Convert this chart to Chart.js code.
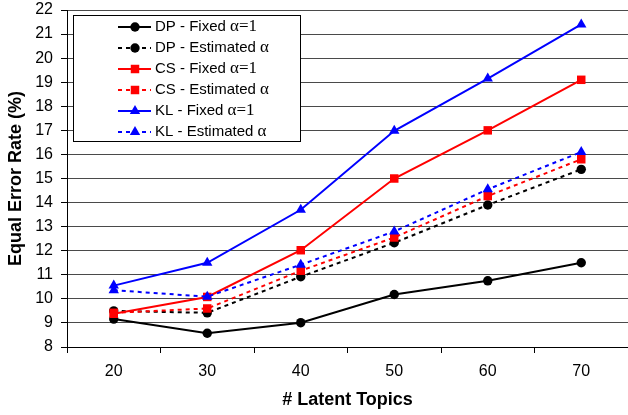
<!DOCTYPE html>
<html lang="en">
<head>
    <meta charset="UTF-8">
    <title>Equal Error Rate vs Latent Topics</title>
    <script src="https://cdn.jsdelivr.net/npm/chart.js"></script>
    <style>
        html, body {
            margin: 0;
            padding: 0;
            background: #fff;
            overflow: hidden;
        }
        #wrap {
            width: 634px;
            height: 415px;
        }
    </style>
</head>
<body>
    <div id="wrap"><canvas id="eerChart"></canvas></div>

    <script>
        // data
        const topics = ['20', '30', '40', '50', '60', '70'];
        const yTicks = [8, 9, 10, 11, 12, 13, 14, 15, 16, 17, 18, 19, 20, 21, 22];

        const dpFixed = [9.16, 8.57, 9.01, 10.18, 10.75, 11.5];
        const dpEst   = [9.5, 9.42, 10.92, 12.33, 13.9, 15.38];
        const csFixed = [9.38, 10.08, 12.02, 15.0, 17.0, 19.1];
        const csEst   = [9.42, 9.6, 11.17, 12.55, 14.27, 15.8];
        const klFixed = [10.55, 11.5, 13.7, 16.98, 19.15, 21.4];
        const klEst   = [10.36, 10.09, 11.42, 12.8, 14.55, 16.1];

        const seriesLabels = [
            'DP - Fixed α=1', 'DP - Estimated α',
            'CS - Fixed α=1', 'CS - Estimated α',
            'KL - Fixed α=1', 'KL - Estimated α'
        ];
        const seriesData = [dpFixed, dpEst, csFixed, csEst, klFixed, klEst];
        const colors = ['#000000', '#000000', '#ff0000', '#ff0000', '#0000ff', '#0000ff'];
        const markers = ['circle', 'circle', 'rect', 'rect', 'triangle', 'triangle'];
        const markerSize = { circle: 4.7, rect: 6, triangle: 6 };

        const datasets = seriesData.map((d, i) => ({
            label: seriesLabels[i],
            data: d,
            borderColor: colors[i],
            backgroundColor: colors[i],
            borderWidth: 2,
            borderDash: i % 2 === 1 ? [4, 4] : [],
            pointStyle: markers[i],
            pointRadius: markerSize[markers[i]],
            pointBorderWidth: 0,
            pointBackgroundColor: colors[i],
            tension: 0,
            order: 5 - i
        }));

        // legend box drawn inside the plot, top-left
        const boxLegend = {
            id: 'boxLegend',
            afterDatasetsDraw(chart) {
                const ctx = chart.ctx;
                const x0 = 73, y0 = 15, w = 227, h = 126;
                ctx.save();
                ctx.fillStyle = '#fff';
                ctx.fillRect(x0, y0, w, h);
                ctx.strokeStyle = '#000';
                ctx.lineWidth = 1;
                ctx.strokeRect(x0 + 0.5, y0 + 0.5, w, h);

                chart.data.datasets.forEach((ds, i) => {
                    const y = 27 + i * 21;
                    ctx.strokeStyle = ds.borderColor;
                    ctx.lineWidth = 2;
                    ctx.setLineDash(ds.borderDash);
                    ctx.beginPath();
                    ctx.moveTo(118, y);
                    ctx.lineTo(151, y);
                    ctx.stroke();
                    ctx.setLineDash([]);
                    ctx.fillStyle = ds.backgroundColor;
                    Chart.helpers.drawPoint(ctx, {
                        pointStyle: ds.pointStyle,
                        radius: ds.pointRadius,
                        borderWidth: 0,
                        rotation: 0
                    }, 135, y);

                    const k = ds.label.indexOf('α');
                    const head = ds.label.slice(0, k);
                    const tail = ds.label.slice(k);
                    ctx.fillStyle = '#000';
                    ctx.textBaseline = 'middle';
                    ctx.textAlign = 'left';
                    ctx.font = '15px "Liberation Sans", Arial, sans-serif';
                    ctx.fillText(head, 155, y);
                    const tw = ctx.measureText(head).width;
                    ctx.font = '17px "Liberation Serif", "Times New Roman", serif';
                    ctx.fillText(tail, 155 + tw, y);
                });
                ctx.restore();
            }
        };

        Chart.defaults.font.family = '"Liberation Sans", Arial, sans-serif';
        Chart.defaults.color = '#000';

        new Chart(document.getElementById('eerChart'), {
            type: 'line',
            data: { labels: topics, datasets: datasets },
            options: {
                responsive: true,
                maintainAspectRatio: false,
                animation: false,
                layout: { padding: { top: 10, right: 0, bottom: 0, left: 0 } },
                plugins: {
                    legend: { display: false },
                    tooltip: { enabled: false }
                },
                scales: {
                    x: {
                        offset: true,
                        grid: {
                            offset: true,
                            drawOnChartArea: false,
                            drawTicks: true,
                            tickLength: 6,
                            color: '#000'
                        },
                        border: { color: '#000', width: 1 },
                        ticks: { font: { size: 16 }, padding: 9, maxRotation: 0 },
                        title: {
                            display: true,
                            text: '# Latent Topics',
                            font: { size: 18, weight: 'bold' },
                            padding: { top: 0, bottom: 4 }
                        },
                        afterFit(scale) { scale.height = 68; }
                    },
                    y: {
                        min: 8,
                        max: 22,
                        afterBuildTicks(scale) {
                            scale.ticks = yTicks.map(v => ({ value: v }));
                        },
                        grid: {
                            color: '#4a4a4a',
                            lineWidth: 1,
                            tickLength: 6,
                            tickColor: '#000'
                        },
                        border: { color: '#000', width: 1 },
                        ticks: { font: { size: 16 }, padding: 8 },
                        title: {
                            display: true,
                            text: 'Equal Error Rate (%)',
                            font: { size: 18, weight: 'bold' },
                            padding: { top: 5, bottom: 0 }
                        },
                        afterFit(scale) {
                            scale.width = 67;
                            scale.paddingTop = 0;
                            scale.paddingBottom = 0;
                        }
                    }
                }
            },
            plugins: [boxLegend]
        });
    </script>
</body>
</html>
